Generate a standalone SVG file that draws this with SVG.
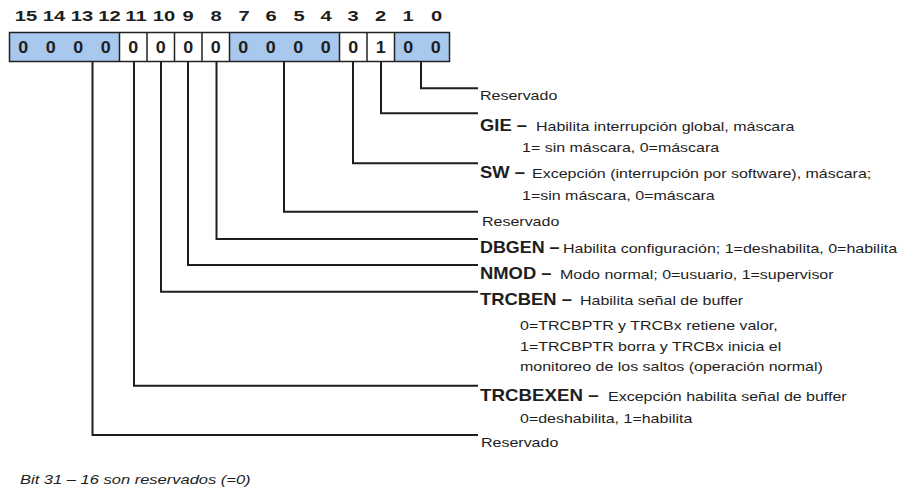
<svg xmlns="http://www.w3.org/2000/svg" width="899" height="489" viewBox="0 0 899 489">
  <style>
    text { font-family: "Liberation Sans", Arial, sans-serif; fill: #1e1e1e; }
    .num { font-weight: bold; font-size: 15.5px; text-anchor: middle; }
    .val { font-weight: bold; font-size: 16px; text-anchor: middle; }
    .lbl { font-weight: bold; font-size: 16px; }
    .desc { font-size: 13px; }
    .note { font-size: 13.2px; font-style: italic; }
    .cell { fill: #ffffff; stroke: none; }
    .blue { fill: #a8c8ee; stroke: none; }
    .grid { stroke: #222222; stroke-width: 1.5; fill: none; }
    .conn { fill: none; stroke: #1e1e1e; stroke-width: 2; stroke-linecap: square; }
  </style>

  <!-- Register: bit numbers, cells and values -->
  <g id="register">
    <g id="bit-numbers">
      <text class="num" transform="matrix(1.3 0 0 1 26 20.5)">15</text>
      <text class="num" transform="matrix(1.3 0 0 1 54 20.5)">14</text>
      <text class="num" transform="matrix(1.3 0 0 1 82 20.5)">13</text>
      <text class="num" transform="matrix(1.3 0 0 1 109.5 20.5)">12</text>
      <text class="num" transform="matrix(1.3 0 0 1 136 20.5)">11</text>
      <text class="num" transform="matrix(1.3 0 0 1 164 20.5)">10</text>
      <text class="num" transform="matrix(1.3 0 0 1 188 20.5)">9</text>
      <text class="num" transform="matrix(1.3 0 0 1 216 20.5)">8</text>
      <text class="num" transform="matrix(1.3 0 0 1 244 20.5)">7</text>
      <text class="num" transform="matrix(1.3 0 0 1 271 20.5)">6</text>
      <text class="num" transform="matrix(1.3 0 0 1 299 20.5)">5</text>
      <text class="num" transform="matrix(1.3 0 0 1 326 20.5)">4</text>
      <text class="num" transform="matrix(1.3 0 0 1 353 20.5)">3</text>
      <text class="num" transform="matrix(1.3 0 0 1 380.5 20.5)">2</text>
      <text class="num" transform="matrix(1.3 0 0 1 408 20.5)">1</text>
      <text class="num" transform="matrix(1.3 0 0 1 436.5 20.5)">0</text>
    </g>
    <g id="cells">
      <rect class="cell" x="9.5" y="32.5" width="440" height="29"/>
      <rect class="blue" x="9.5" y="32.5" width="110" height="29"/>
      <rect class="blue" x="229.5" y="32.5" width="110" height="29"/>
      <rect class="blue" x="394.5" y="32.5" width="55" height="29"/>
      <rect class="grid" x="9.5" y="32.5" width="440" height="29"/>
      <path class="grid" d="M119.5 32.5V61.5M147 32.5V61.5M174.5 32.5V61.5M202 32.5V61.5M229.5 32.5V61.5M339.5 32.5V61.5M367 32.5V61.5M394.5 32.5V61.5"/>
    </g>
    <g id="bit-values">
      <text class="val" transform="matrix(1.12 0 0 1 23.25 52.5)">0</text>
      <text class="val" transform="matrix(1.12 0 0 1 50.75 52.5)">0</text>
      <text class="val" transform="matrix(1.12 0 0 1 78.25 52.5)">0</text>
      <text class="val" transform="matrix(1.12 0 0 1 105.75 52.5)">0</text>
      <text class="val" transform="matrix(1.12 0 0 1 133.25 52.5)">0</text>
      <text class="val" transform="matrix(1.12 0 0 1 160.75 52.5)">0</text>
      <text class="val" transform="matrix(1.12 0 0 1 188.25 52.5)">0</text>
      <text class="val" transform="matrix(1.12 0 0 1 215.75 52.5)">0</text>
      <text class="val" transform="matrix(1.12 0 0 1 243.25 52.5)">0</text>
      <text class="val" transform="matrix(1.12 0 0 1 270.75 52.5)">0</text>
      <text class="val" transform="matrix(1.12 0 0 1 298.25 52.5)">0</text>
      <text class="val" transform="matrix(1.12 0 0 1 325.75 52.5)">0</text>
      <text class="val" transform="matrix(1.12 0 0 1 353.25 52.5)">0</text>
      <text class="val" transform="matrix(1.12 0 0 1 380.75 52.5)">1</text>
      <text class="val" transform="matrix(1.12 0 0 1 408.25 52.5)">0</text>
      <text class="val" transform="matrix(1.12 0 0 1 435.75 52.5)">0</text>
    </g>
  </g>

  <!-- Leader lines from the bit fields to their descriptions -->
  <g id="connectors">
    <path class="conn" d="M421 62V88.3H477"/>
    <path class="conn" d="M381 62V113.3H477"/>
    <path class="conn" d="M353 62V163.3H477"/>
    <path class="conn" d="M284 62V211.7H477"/>
    <path class="conn" d="M216.5 62V239H477"/>
    <path class="conn" d="M188 62V265H477"/>
    <path class="conn" d="M161 62V291.7H477"/>
    <path class="conn" d="M134 62V385.7H477"/>
    <path class="conn" d="M92.5 62V435H477"/>
  </g>

  <!-- Field descriptions -->
  <g id="field-bit0">
    <text class="desc" transform="matrix(1.23 0 0 1 480 99.5)">Reservado</text>
  </g>
  <g id="field-gie">
    <text class="lbl" transform="matrix(1.15 0 0 1 480 130.5)">GIE –</text>
    <text class="desc" transform="matrix(1.23 0 0 1 536 130.5)">Habilita interrupción global, máscara</text>
    <text class="desc" transform="matrix(1.23 0 0 1 522 151.5)">1= sin máscara, 0=máscara</text>
  </g>
  <g id="field-sw">
    <text class="lbl" transform="matrix(1.15 0 0 1 480 177.5)">SW –</text>
    <text class="desc" transform="matrix(1.23 0 0 1 532 177.5)">Excepción (interrupción por software), máscara;</text>
    <text class="desc" transform="matrix(1.23 0 0 1 522 199.5)">1=sin máscara, 0=máscara</text>
  </g>
  <g id="field-bits7-4">
    <text class="desc" transform="matrix(1.23 0 0 1 482 226)">Reservado</text>
  </g>
  <g id="field-dbgen">
    <text class="lbl" transform="matrix(1.12 0 0 1 480 252.5)">DBGEN –</text>
    <text class="desc" transform="matrix(1.23 0 0 1 563 252.5)">Habilita configuración; 1=deshabilita, 0=habilita</text>
  </g>
  <g id="field-nmod">
    <text class="lbl" transform="matrix(1.15 0 0 1 480 278.5)">NMOD –</text>
    <text class="desc" transform="matrix(1.23 0 0 1 560 278.5)">Modo normal; 0=usuario, 1=supervisor</text>
  </g>
  <g id="field-trcben">
    <text class="lbl" transform="matrix(1.15 0 0 1 480 305)">TRCBEN –</text>
    <text class="desc" transform="matrix(1.23 0 0 1 580 305)">Habilita señal de buffer</text>
    <text class="desc" transform="matrix(1.23 0 0 1 520 329.5)">0=TRCBPTR y TRCBx retiene valor,</text>
    <text class="desc" transform="matrix(1.23 0 0 1 520 350.5)">1=TRCBPTR borra y TRCBx inicia el</text>
    <text class="desc" transform="matrix(1.23 0 0 1 520 371)">monitoreo de los saltos (operación normal)</text>
  </g>
  <g id="field-trcbexen">
    <text class="lbl" transform="matrix(1.17 0 0 1 480 400.5)">TRCBEXEN –</text>
    <text class="desc" transform="matrix(1.23 0 0 1 608 400.5)">Excepción habilita señal de buffer</text>
    <text class="desc" transform="matrix(1.23 0 0 1 520 422.5)">0=deshabilita, 1=habilita</text>
  </g>
  <g id="field-bits15-12">
    <text class="desc" transform="matrix(1.23 0 0 1 481 446.5)">Reservado</text>
  </g>

  <g id="footnote">
    <text class="note" transform="matrix(1.25 0 0 1 20 483.5)">Bit 31 – 16 son reservados (=0)</text>
  </g>
</svg>
